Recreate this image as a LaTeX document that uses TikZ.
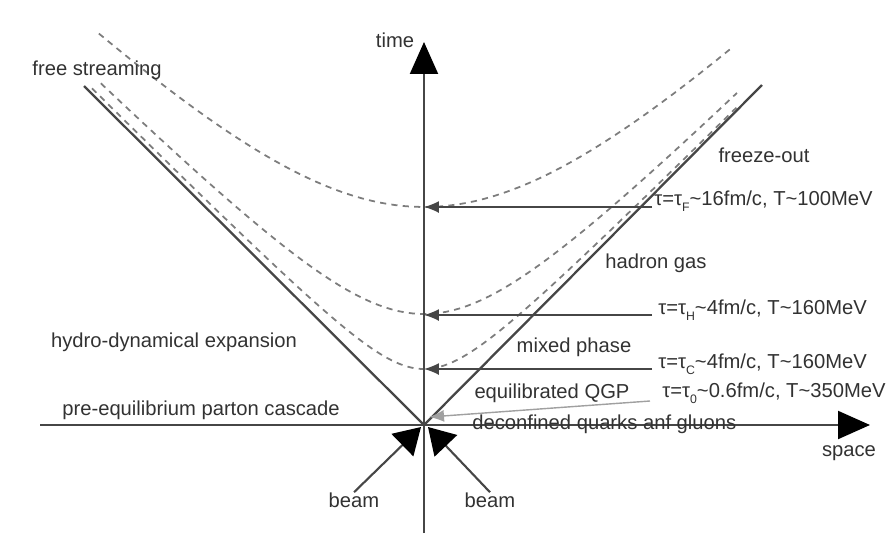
\documentclass[tikz,border=0pt]{standalone}
\usepackage{fontspec}
\setmainfont{Liberation Sans}
\usetikzlibrary{arrows.meta}
\definecolor{txtGray}{RGB}{50,50,50}
\definecolor{lineGray}{RGB}{70,70,70}
\definecolor{dashGray}{RGB}{125,125,125}
\definecolor{softGray}{RGB}{160,160,160}

\newcommand{\tauidx}[1]{τ\raisebox{-0.65ex}{\scriptsize #1}}

\begin{document}
\begin{tikzpicture}[x=0.02cm, y=-0.02cm,
    lbl/.style={font=\fontsize{11.5}{13}\selectfont, text=txtGray, inner sep=0pt},
    taulbl/.style={lbl, anchor=base west},
    cone/.style={lineGray, line width=1.3pt},
    axis/.style={lineGray, line width=1.2pt, -{Triangle[length=0.64cm, width=0.56cm, color=black]}},
    hyp/.style={dashGray, line width=1pt, dash pattern=on 3.5pt off 3pt},
    tauarr/.style={lineGray, line width=0.8pt, -{Latex[length=0.3cm, width=0.24cm]}},
    beamarr/.style={lineGray, line width=1.2pt, -{Triangle[length=0.52cm, width=0.62cm, color=black]}},
]
\useasboundingbox (0,0) rectangle (894,535);

% axes and light cone
\coordinate (O) at (424,425);
\coordinate (tbot) at (424,533);
\coordinate (ttop) at (424,42);
\coordinate (sleft) at (40,425);
\coordinate (sright) at (870,425);
\coordinate (coneL) at (84,86);
\coordinate (coneR) at (762,85);

% hyperbolas of constant proper time
\draw[hyp] plot[domain=-1.19:1.14, variable=\s, samples=60] ({424+218*sinh(\s)}, {425-218*cosh(\s)});
\draw[hyp] plot[domain=-1.79:1.76, variable=\s, samples=60] ({424+111*sinh(\s)}, {425-111*cosh(\s)});
\draw[hyp] plot[domain=-2.48:2.42, variable=\s, samples=70] ({424+56*sinh(\s)}, {425-56*cosh(\s)});

\draw[cone] (O) -- (coneL);
\draw[cone] (O) -- (coneR);
\draw[axis] (tbot) -- (ttop);
\draw[axis] (sleft) -- (sright);

\node[lbl] (time) at (395,40) {time};
\node[lbl] (space) at (849,453) {space};

% regions
\node[lbl] (free) at (97,70) {free streaming};
\node[lbl] (freeze) at (764,155) {freeze-out};
\node[lbl] (hadron) at (656,263) {hadron gas};
\node[lbl] (mixed) at (574,347) {mixed phase};
\node[lbl] (qgp) at (552,393) {equilibrated QGP};
\node[lbl, anchor=west] (deconf) at (472,424) {deconfined quarks anf gluons};
\node[lbl] (hydro) at (174,342) {hydro-dynamical expansion};
\node[lbl, anchor=west] (preeq) at (62,410) {pre-equilibrium parton cascade};

% proper times
\node[taulbl] (tauF) at (654,205) {τ=\tauidx{F}\textasciitilde16fm/c, T\textasciitilde100MeV};
\node[taulbl] (tauH) at (658,314) {τ=\tauidx{H}\textasciitilde4fm/c, T\textasciitilde160MeV};
\node[taulbl] (tauC) at (658,368) {τ=\tauidx{C}\textasciitilde4fm/c, T\textasciitilde160MeV};
\node[taulbl] (tau0) at (662,397) {τ=\tauidx{0}\textasciitilde0.6fm/c, T\textasciitilde350MeV};

\coordinate (startF) at (652,207);
\coordinate (startH) at (652,315);
\coordinate (startC) at (652,369);
\coordinate (start0) at (650,401);
\coordinate (tip0) at (429,417);
\draw[tauarr] (startF) -- (startF -| O);
\draw[tauarr] (startH) -- (startH -| O);
\draw[tauarr] (startC) -- (startC -| O);
\draw[tauarr, softGray] (start0) -- (tip0);

% beams
\node[lbl] (beamL) at (354,500) {beam};
\node[lbl] (beamR) at (490,500) {beam};
\coordinate (tipL) at (421,427);
\coordinate (tipR) at (428,427);
\draw[beamarr] (beamL.north) -- (tipL);
\draw[beamarr] (beamR.north) -- (tipR);
\end{tikzpicture}
\end{document}
